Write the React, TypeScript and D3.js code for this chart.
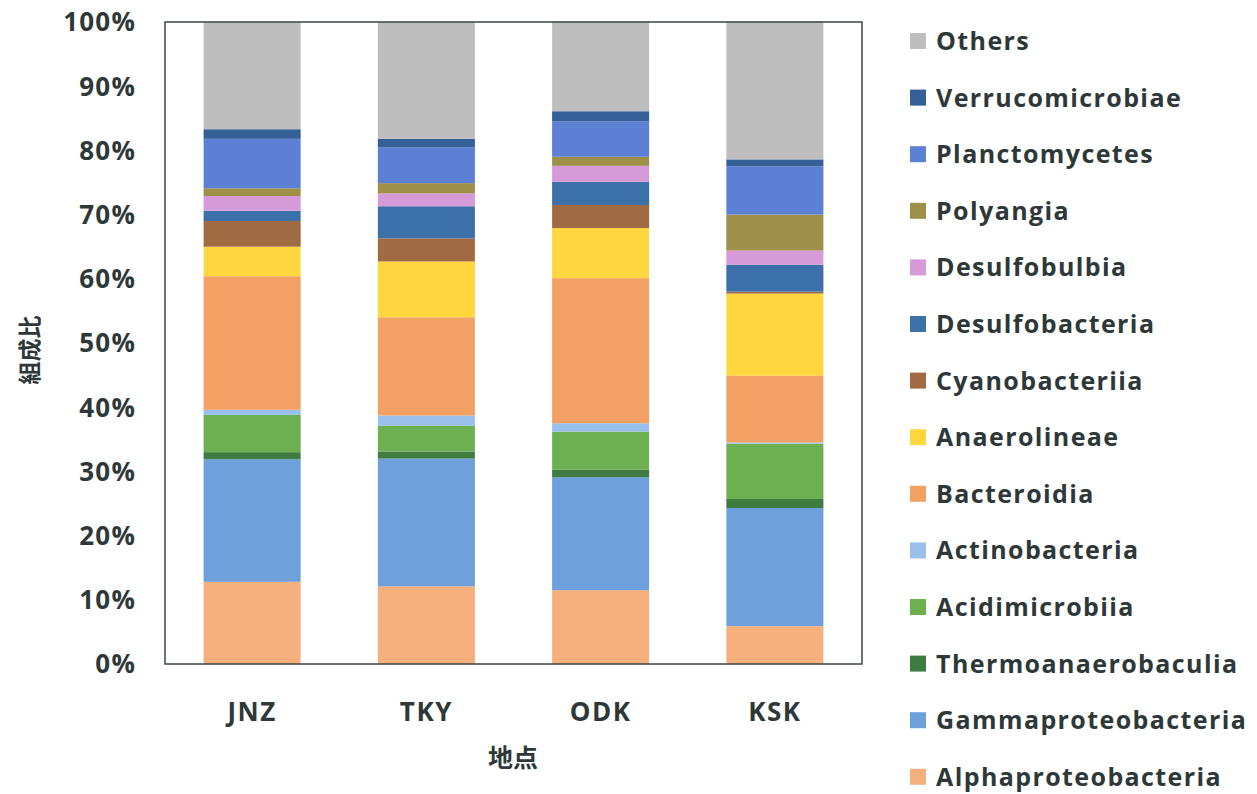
import React from "react";
import * as d3 from "d3";

// Sampling sites
const sites = ["JNZ", "TKY", "ODK", "KSK"];

// Taxa, bottom of the stack first
const taxa = [
  "Alphaproteobacteria",
  "Gammaproteobacteria",
  "Thermoanaerobaculia",
  "Acidimicrobiia",
  "Actinobacteria",
  "Bacteroidia",
  "Anaerolineae",
  "Cyanobacteriia",
  "Desulfobacteria",
  "Desulfobulbia",
  "Polyangia",
  "Planctomycetes",
  "Verrucomicrobiae",
  "Others",
];

// Relative abundance (%) per site, in the order of `sites`
const alphaproteobacteria = [12.8, 12.1, 11.5, 5.9];
const gammaproteobacteria = [19.1, 19.9, 17.6, 18.4];
const thermoanaerobaculia = [1.1, 1.1, 1.2, 1.4];
const acidimicrobiia = [5.8, 4.0, 5.9, 8.6];
const actinobacteria = [0.8, 1.6, 1.3, 0.2];
const bacteroidia = [20.8, 15.3, 22.6, 10.4];
const anaerolineae = [4.6, 8.7, 7.8, 12.8];
const cyanobacteriia = [4.0, 3.6, 3.6, 0.3];
const desulfobacteria = [1.6, 5.0, 3.6, 4.2];
const desulfobulbia = [2.3, 2.0, 2.5, 2.2];
const polyangia = [1.2, 1.6, 1.4, 5.6];
const planctomycetes = [7.7, 5.6, 5.5, 7.5];
const verrucomicrobiae = [1.5, 1.3, 1.6, 1.1];
const others = [16.7, 18.2, 14.0, 21.5];

const seriesValues = [
  alphaproteobacteria,
  gammaproteobacteria,
  thermoanaerobaculia,
  acidimicrobiia,
  actinobacteria,
  bacteroidia,
  anaerolineae,
  cyanobacteriia,
  desulfobacteria,
  desulfobulbia,
  polyangia,
  planctomycetes,
  verrucomicrobiae,
  others,
];

const colors = [
  "#F6B07D",
  "#6EA0DC",
  "#3F7C42",
  "#6DB052",
  "#98C0EA",
  "#F2A064",
  "#FFD63E",
  "#A06A43",
  "#3C70A8",
  "#D79AD8",
  "#9E9048",
  "#5B80D4",
  "#345F97",
  "#BEBEBE",
];

const yTicks = [0, 10, 20, 30, 40, 50, 60, 70, 80, 90, 100];

const W = 1257;
const H = 794;
const plot = { left: 165, right: 862, top: 22, bottom: 664 };
const textColor = "#2E3838";
const font = "'Open Sans', 'Noto Sans', sans-serif";
const cjkFont = "'Noto Sans CJK JP', 'Noto Sans', sans-serif";

export default function App() {
  const rows = sites.map((site, i) => {
    const row: Record<string, number | string> = { site };
    taxa.forEach((t, k) => (row[t] = seriesValues[k][i]));
    return row;
  });

  const stacked = d3.stack<Record<string, number | string>>().keys(taxa)(rows as any);

  const x = d3
    .scaleBand<string>()
    .domain(sites)
    .range([plot.left, plot.right])
    .paddingInner(0.443)
    .paddingOuter(0.2215);

  const y = d3.scaleLinear().domain([0, 100]).range([plot.bottom, plot.top]);

  const legendX = 910;
  const legendY0 = 41;
  const legendStep = 56.6;
  const legendOrder = [...taxa].reverse();

  return (
    <svg
      width={W}
      height={H}
      style={{ position: "absolute", left: 0, top: 0, background: "#fff" }}
    >
      {stacked.map((layer, k) => (
        <g key={taxa[k]} fill={colors[k]}>
          {layer.map((d, i) => (
            <rect
              key={sites[i]}
              x={x(sites[i])}
              width={x.bandwidth()}
              y={y(d[1])}
              height={Math.max(0, y(d[0]) - y(d[1]))}
            />
          ))}
        </g>
      ))}

      <rect
        x={plot.left}
        y={plot.top}
        width={plot.right - plot.left}
        height={plot.bottom - plot.top}
        fill="none"
        stroke="#3E4646"
        strokeWidth={1.5}
      />

      {yTicks.map((t) => (
        <text
          key={t}
          x={136}
          y={y(t)}
          dy="0.36em"
          textAnchor="end"
          fontFamily={font}
          fontWeight={700}
          fontSize={26}
          letterSpacing={1.2}
          fill={textColor}
        >
          {t}%
        </text>
      ))}

      {sites.map((s) => (
        <text
          key={s}
          x={(x(s) as number) + x.bandwidth() / 2}
          y={712}
          dy="0.36em"
          textAnchor="middle"
          fontFamily={font}
          fontWeight={700}
          fontSize={26}
          letterSpacing={1.5}
          fill={textColor}
        >
          {s}
        </text>
      ))}

      <text
        x={513}
        y={758}
        dy="0.36em"
        textAnchor="middle"
        fontFamily={cjkFont}
        fontWeight={700}
        fontSize={25}
        fill={textColor}
      >
        地点
      </text>

      <text
        transform={`translate(30, 350) rotate(-90)`}
        dy="0.36em"
        textAnchor="middle"
        fontFamily={cjkFont}
        fontWeight={700}
        fontSize={23}
        fill={textColor}
      >
        組成比
      </text>

      {legendOrder.map((t, j) => {
        const k = taxa.indexOf(t);
        const cy = legendY0 + j * legendStep;
        return (
          <g key={t}>
            <rect x={legendX} y={cy - 8} width={16} height={16} fill={colors[k]} />
            <text
              x={936}
              y={cy}
              dy="0.36em"
              fontFamily={font}
              fontWeight={700}
              fontSize={25}
              letterSpacing={1.4}
              fill={textColor}
            >
              {t}
            </text>
          </g>
        );
      })}
    </svg>
  );
}
